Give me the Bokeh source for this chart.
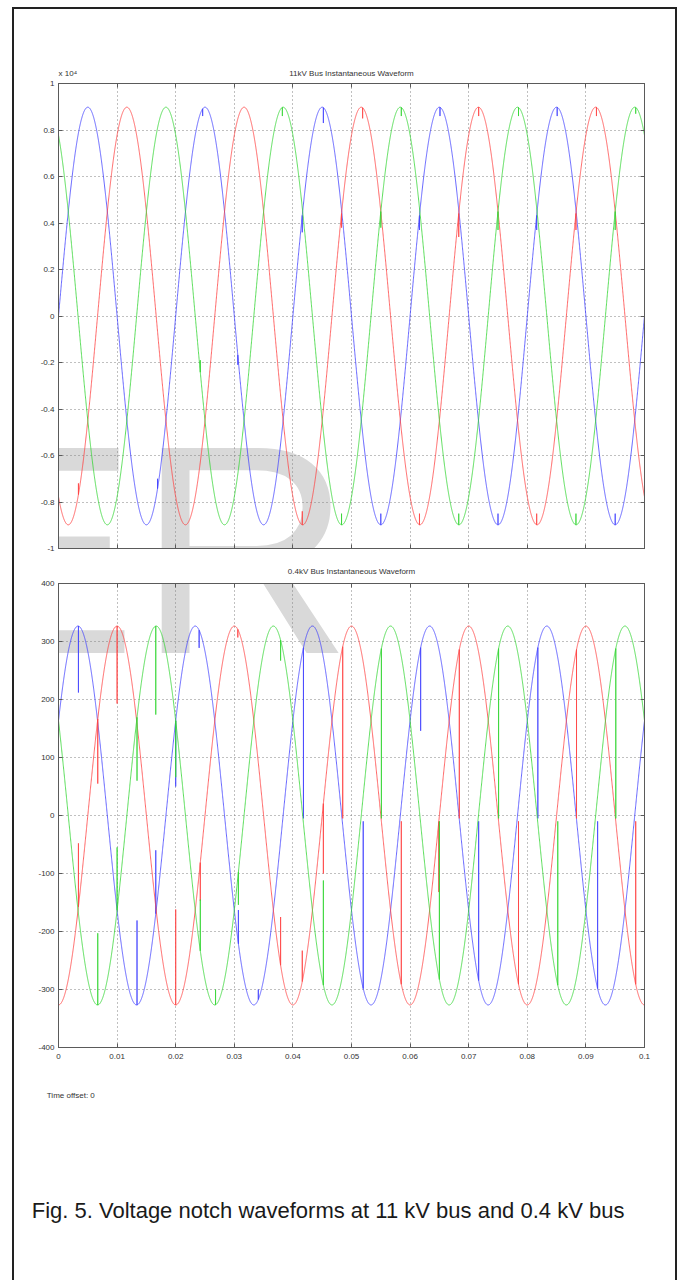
import numpy as np
from bokeh.plotting import figure
from bokeh.models import FixedTicker, LinearAxis, Label, CustomJSTickFormatter, Range1d
from bokeh.layouts import column
from bokeh.embed import file_html
from bokeh.resources import INLINE

# ---------------- data ----------------
TITLE_11KV = "11kV Bus Instantaneous Waveform"
TITLE_04KV = "0.4kV Bus Instantaneous Waveform"
SCALE_LABEL = "x 10\u2074"
TIME_OFFSET_TEXT = "Time offset: 0"
CAPTION = "Fig. 5. Voltage notch waveforms at 11 kV bus and 0.4 kV bus"
WATERMARK = "ER"

X_TICKS = [0.0, 0.01, 0.02, 0.03, 0.04, 0.05, 0.06, 0.07, 0.08, 0.09, 0.1]
Y_TICKS_11KV = [-1.0, -0.8, -0.6, -0.4, -0.2, 0.0, 0.2, 0.4, 0.6, 0.8, 1.0]
Y_TICKS_04KV = [-400, -300, -200, -100, 0, 100, 200, 300, 400]

FREQ_HZ = 50.0
TIME_END = 0.1
SAMPLE_STEP = 2e-5
PHASES = ["blue", "red", "green"]
PHASE_COLORS = {"blue": "#4242ff", "red": "#ff4242", "green": "#33d633"}

AMPLITUDE_11KV = 0.898            # x10^4 V
ANGLE_11KV_DEG = {"blue": 0.0, "red": -120.0, "green": 120.0}
AMPLITUDE_04KV = 326.6            # V
ANGLE_04KV_DEG = {"blue": 30.0, "red": -90.0, "green": 150.0}

# notches: time (s), phase, value at spike tip
NOTCH_11KV_TIME = [0.0034, 0.0169, 0.0242, 0.0246, 0.0306, 0.0382,
                   0.0416, 0.0416, 0.0452, 0.0483, 0.0483, 0.0519, 0.0550, 0.0550,
                   0.0585, 0.0616, 0.0616, 0.0651, 0.0683, 0.0683, 0.0717, 0.0750, 0.0750,
                   0.0785, 0.0816, 0.0816, 0.0851, 0.0883, 0.0883, 0.0918, 0.0950, 0.0950, 0.0985]
NOTCH_11KV_PHASE = ["red", "blue", "green", "blue", "blue", "green",
                    "red", "blue", "blue", "green", "red", "red", "blue", "green",
                    "green", "red", "blue", "blue", "green", "red", "red", "blue", "green",
                    "green", "red", "blue", "blue", "green", "red", "red", "blue", "green", "green"]
NOTCH_11KV_TIP = [-0.72, -0.70, -0.19, 0.86, -0.21, 0.86,
                  -0.84, 0.36, 0.83, -0.85, 0.38, 0.85, -0.85, 0.38,
                  0.86, -0.85, 0.37, 0.86, -0.85, 0.34, 0.86, -0.85, 0.37,
                  0.86, -0.85, 0.37, 0.86, -0.85, 0.37, 0.86, -0.85, 0.37, 0.87]

NOTCH_04KV_TIME = [0.0034, 0.0034, 0.0067, 0.0067, 0.0100, 0.0100, 0.0134, 0.0134,
                   0.0166, 0.0166, 0.0200, 0.0200, 0.0200, 0.0240, 0.0242, 0.0242,
                   0.0268, 0.0306, 0.0307, 0.0307, 0.0341, 0.0379, 0.0379, 0.0416,
                   0.0418, 0.0452, 0.0452, 0.0485, 0.0520, 0.0551, 0.0585, 0.0618,
                   0.0649, 0.0650, 0.0684, 0.0717, 0.0751, 0.0785, 0.0818, 0.0852,
                   0.0884, 0.0920, 0.0951, 0.0985]
NOTCH_04KV_PHASE = ["blue", "red", "green", "red", "red", "green", "blue", "green",
                    "green", "blue", "red", "blue", "green", "blue", "red", "green",
                    "green", "red", "blue", "green", "blue", "green", "red", "red",
                    "blue", "green", "red", "red", "blue", "green", "red", "blue",
                    "red", "green", "red", "blue", "green", "red", "blue", "green",
                    "red", "blue", "green", "red"]
NOTCH_04KV_TIP = [212, -48, -203, 55, 193, -55, -181, 60,
                  174, -60, -162, 50, 66, 289, -147, -145,
                  -300, 307, -163, -154, -300, 267, -175, -233,
                  -5, -112, -100, -5, -10, -5, -10, 146,
                  -132, -10, -5, -10, -5, -10, -5, -10,
                  -5, -10, -5, -10]

# text anchor positions (data x of the label centre)
SCALE_LABEL_X = 0.0016
TITLE_X = 0.05
TIME_OFFSET_X = 0.0021
CAPTION_X = 0.0460

# ---------------- helpers ----------------
def phase_series(amplitude, angle_deg, n_time, n_phase, n_tip, phase):
    t = np.arange(0.0, TIME_END + SAMPLE_STEP / 2, SAMPLE_STEP)
    w = 2 * np.pi * FREQ_HZ
    ph = np.deg2rad(angle_deg)
    xs = list(t)
    ys = list(amplitude * np.sin(w * t + ph))
    keys = [0] * len(t)
    for tn, p, tip in zip(n_time, n_phase, n_tip):
        if p != phase:
            continue
        v0 = float(amplitude * np.sin(w * tn + ph))
        xs += [tn, tn, tn]
        ys += [v0, tip, v0]
        keys += [1, 2, 3]
    order = np.lexsort((np.array(keys), np.array(xs)))
    return np.array(xs)[order], np.array(ys)[order]


FONT = "Liberation Sans"
AX_COLOR = "#5a5a5a"
TXT_COLOR = "#333333"
FIG_W = 661

num_fmt = CustomJSTickFormatter(code="return String(Number(tick.toFixed(3)));")
blank_fmt = CustomJSTickFormatter(code="return '';")


def style_axis(ax, ticks, labels):
    ax.ticker = FixedTicker(ticks=ticks)
    ax.formatter = num_fmt if labels else blank_fmt
    ax.axis_line_color = AX_COLOR
    ax.major_tick_line_color = AX_COLOR
    ax.minor_tick_line_color = None
    ax.major_tick_in = 4
    ax.major_tick_out = 0
    ax.major_label_text_font = FONT
    ax.major_label_text_font_size = "8px"
    ax.major_label_text_color = TXT_COLOR
    ax.major_label_standoff = 4 if labels else 0


def text_axis(positions, texts, size, standoff, font=FONT, color=TXT_COLOR):
    ax = LinearAxis(ticker=FixedTicker(ticks=positions),
                    formatter=CustomJSTickFormatter(args=dict(texts=texts),
                                                    code="return texts[index];"))
    ax.axis_line_color = None
    ax.major_tick_line_color = None
    ax.minor_tick_line_color = None
    ax.major_tick_in = 0
    ax.major_tick_out = 0
    ax.major_label_text_font = font
    ax.major_label_text_font_size = size
    ax.major_label_text_color = color
    ax.major_label_standoff = standoff
    return ax


def make_fig(height, yr, yticks, borders, x_labels):
    left, right, top, bottom = borders
    p = figure(width=FIG_W, height=height, x_range=Range1d(0, TIME_END), y_range=Range1d(*yr),
               output_backend="svg", toolbar_location=None,
               min_border_left=left, min_border_right=right,
               min_border_top=top, min_border_bottom=bottom)
    p.outline_line_color = AX_COLOR
    p.background_fill_color = "white"
    p.border_fill_color = "white"
    style_axis(p.xaxis[0], X_TICKS, x_labels)
    if x_labels:
        p.xaxis[0].major_label_standoff = 6
    style_axis(p.yaxis[0], yticks, True)
    top_ax = LinearAxis()
    style_axis(top_ax, X_TICKS, False)
    p.add_layout(top_ax, "above")
    right_ax = LinearAxis()
    style_axis(right_ax, yticks, False)
    p.add_layout(right_ax, "right")
    p.xgrid.ticker = FixedTicker(ticks=X_TICKS)
    p.ygrid.ticker = FixedTicker(ticks=yticks)
    for g in (p.xgrid, p.ygrid):
        g.grid_line_color = "#808080"
        g.grid_line_dash = "1 3"
        g.grid_line_width = 1
    return p


def add_watermark(p, x, y):
    lab = Label(x=x, y=y, x_units="screen", y_units="screen", text=WATERMARK,
                text_font=FONT, text_font_size="298px", text_color="#d9d9d9",
                text_baseline="middle", text_align="left", level="underlay")
    p.center = [lab] + list(p.center)


# ---------------- top figure: 11 kV ----------------
p1 = make_fig(551, (-1, 1), Y_TICKS_11KV, (44, 31, 74, 12), False)
add_watermark(p1, -120, -1)
for ph in PHASES:
    xs, ys = phase_series(AMPLITUDE_11KV, ANGLE_11KV_DEG[ph],
                          NOTCH_11KV_TIME, NOTCH_11KV_PHASE, NOTCH_11KV_TIP, ph)
    p1.line(xs, ys, line_color=PHASE_COLORS[ph], line_width=1, line_alpha=0.8)
p1.add_layout(text_axis([SCALE_LABEL_X, TITLE_X], [SCALE_LABEL, TITLE_11KV], "8px", 6), "above")

# ---------------- bottom figure: 0.4 kV ----------------
p2 = make_fig(720, (-400, 400), Y_TICKS_04KV, (44, 31, 23, 233), True)
add_watermark(p2, -120, 498)
for ph in PHASES:
    xs, ys = phase_series(AMPLITUDE_04KV, ANGLE_04KV_DEG[ph],
                          NOTCH_04KV_TIME, NOTCH_04KV_PHASE, NOTCH_04KV_TIP, ph)
    p2.line(xs, ys, line_color=PHASE_COLORS[ph], line_width=1, line_alpha=0.8)
p2.add_layout(text_axis([TITLE_X], [TITLE_04KV], "8px", 8), "above")
p2.add_layout(text_axis([TIME_OFFSET_X], [TIME_OFFSET_TEXT], "8px", 29), "below")
p2.add_layout(text_axis([CAPTION_X], [CAPTION], "22px", 95, color="#1a1a1a"), "below")

layout = column(p1, p2, spacing=0,
                styles={"box-sizing": "content-box", "margin-left": "12px", "margin-top": "7px",
                        "border-left": "2px solid #222222", "border-right": "2px solid #222222",
                        "border-top": "2px solid #222222"})
open("out.html", "w").write(file_html(layout, INLINE))
